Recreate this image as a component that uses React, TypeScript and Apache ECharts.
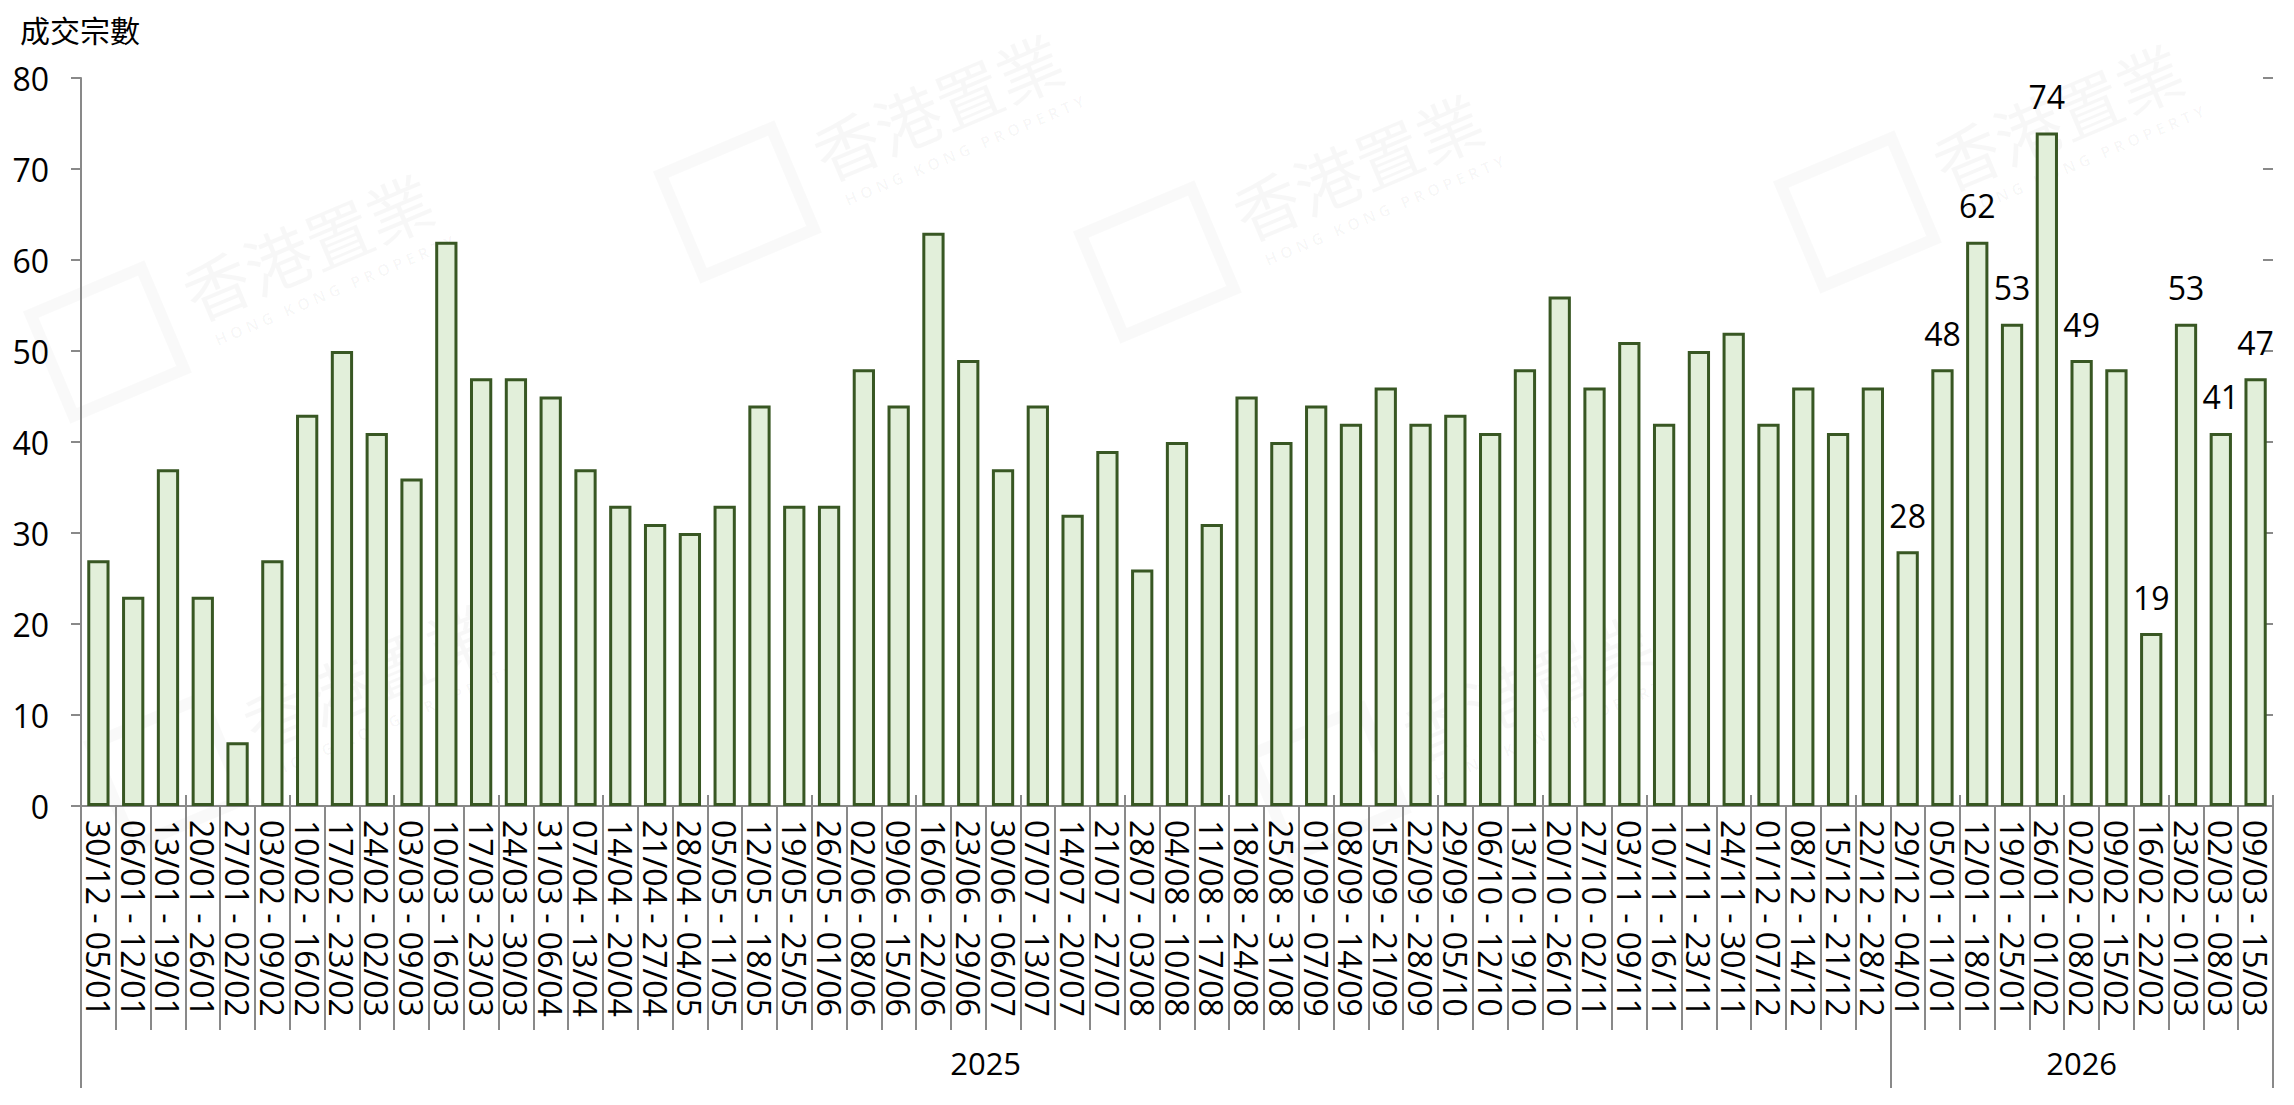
import React, { useEffect, useRef } from "react";
import * as echarts from "echarts";

const categories2025 = [
  "30/12 - 05/01", "06/01 - 12/01", "13/01 - 19/01", "20/01 - 26/01", "27/01 - 02/02",
  "03/02 - 09/02", "10/02 - 16/02", "17/02 - 23/02", "24/02 - 02/03", "03/03 - 09/03",
  "10/03 - 16/03", "17/03 - 23/03", "24/03 - 30/03", "31/03 - 06/04", "07/04 - 13/04",
  "14/04 - 20/04", "21/04 - 27/04", "28/04 - 04/05", "05/05 - 11/05", "12/05 - 18/05",
  "19/05 - 25/05", "26/05 - 01/06", "02/06 - 08/06", "09/06 - 15/06", "16/06 - 22/06",
  "23/06 - 29/06", "30/06 - 06/07", "07/07 - 13/07", "14/07 - 20/07", "21/07 - 27/07",
  "28/07 - 03/08", "04/08 - 10/08", "11/08 - 17/08", "18/08 - 24/08", "25/08 - 31/08",
  "01/09 - 07/09", "08/09 - 14/09", "15/09 - 21/09", "22/09 - 28/09", "29/09 - 05/10",
  "06/10 - 12/10", "13/10 - 19/10", "20/10 - 26/10", "27/10 - 02/11", "03/11 - 09/11",
  "10/11 - 16/11", "17/11 - 23/11", "24/11 - 30/11", "01/12 - 07/12", "08/12 - 14/12",
  "15/12 - 21/12", "22/12 - 28/12",
];
const categories2026 = [
  "29/12 - 04/01", "05/01 - 11/01", "12/01 - 18/01", "19/01 - 25/01", "26/01 - 01/02",
  "02/02 - 08/02", "09/02 - 15/02", "16/02 - 22/02", "23/02 - 01/03", "02/03 - 08/03",
  "09/03 - 15/03",
];
const values2025 = [
  27, 23, 37, 23, 7, 27, 43, 50, 41, 36, 62, 47, 47, 45, 37, 33, 31, 30, 33, 44,
  33, 33, 48, 44, 63, 49, 37, 44, 32, 39, 26, 40, 31, 45, 40, 44, 42, 46, 42, 43,
  41, 48, 56, 46, 51, 42, 50, 52, 42, 46, 41, 46,
];
const values2026 = [28, 48, 62, 53, 74, 49, 48, 19, 53, 41, 47];
const labelled2026 = [true, true, true, true, true, true, false, true, true, true, true];
const yearGroups = ["2025", "2026"];
const yTicks = [0, 10, 20, 30, 40, 50, 60, 70, 80];
const yTitle = "成交宗數";

const FONT = '"Open Sans", "Noto Sans", sans-serif';
const AXIS_COLOR = "#898989";

export default function App() {
  const ref = useRef<HTMLDivElement>(null);

  useEffect(() => {
    if (!ref.current) return;
    const chart = echarts.init(ref.current, undefined, { renderer: "svg" });

    const categories = [...categories2025, ...categories2026];
    const n2025 = categories2025.length;
    const total = categories.length;
    const barData = [
      ...values2025.map((v) => ({ value: v })),
      ...values2026.map((v, i) => ({ value: v, label: { show: labelled2026[i] } })),
    ];
    const yearCenters: Record<string, string> = {
      [String(n2025 / 2)]: yearGroups[0],
      [String(n2025 + (total - n2025) / 2)]: yearGroups[1],
    };

    const wmPositions = [
      [200, 330], [830, 190], [1250, 250], [260, 760], [1420, 770], [1950, 200],
    ];
    const watermarks = wmPositions.map(([x, y]) => ({
      type: "group",
      x,
      y,
      rotation: 0.4,
      silent: true,
      z: 100,
      children: [
        {
          type: "text",
          x: 0,
          y: -70,
          style: { text: "香港置業", font: '66px "Noto Sans CJK TC"', fill: "rgba(0,0,0,0.03)" },
        },
        {
          type: "text",
          x: 10,
          y: 8,
          style: {
            text: "H O N G   K O N G   P R O P E R T Y",
            font: 'bold 16px "Open Sans"',
            fill: "rgba(0,0,0,0.03)",
          },
        },
        {
          type: "rect",
          shape: { x: -150, y: -80, width: 120, height: 110 },
          style: { fill: "none", stroke: "rgba(0,0,0,0.022)", lineWidth: 12 },
        },
      ],
    }));

    const catBase = {
      type: "category",
      data: categories,
      boundaryGap: true,
      position: "bottom",
    };

    chart.setOption({
      animation: false,
      backgroundColor: "#ffffff",
      textStyle: { fontFamily: FONT },
      title: {
        text: yTitle,
        left: 15,
        top: 9,
        textStyle: {
          fontFamily: '"Noto Sans CJK TC", sans-serif',
          fontSize: 30,
          fontWeight: "normal",
          color: "#000",
        },
      },
      grid: { left: 81, right: 21, top: 78, bottom: 299, containLabel: false },
      xAxis: [
        {
          ...catBase,
          axisLine: { show: true, lineStyle: { color: AXIS_COLOR, width: 2 } },
          axisTick: { show: true, length: 224, lineStyle: { color: AXIS_COLOR, width: 2 } },
          axisLabel: {
            interval: 0,
            rotate: -90,
            margin: 14,
            fontSize: 32,
            color: "#000",
            fontFamily: FONT,
          },
          splitLine: { show: false },
        },
        {
          ...catBase,
          axisLine: { show: false },
          axisTick: { show: true, inside: true, length: 11, lineStyle: { color: AXIS_COLOR, width: 2 } },
          axisLabel: { show: false },
          splitLine: { show: false },
        },
        {
          ...catBase,
          axisLine: { show: false },
          axisTick: {
            show: true,
            length: 282,
            interval: (i: number) => i === 0 || i === n2025,
            lineStyle: { color: AXIS_COLOR, width: 2 },
          },
          axisLabel: { show: false },
          splitLine: { show: false },
        },
        {
          type: "value",
          position: "bottom",
          min: 0,
          max: total,
          interval: 0.5,
          axisLine: { show: false },
          axisTick: { show: false },
          splitLine: { show: false },
          axisLabel: {
            show: true,
            margin: 241,
            fontSize: 31,
            color: "#000",
            fontFamily: FONT,
            formatter: (v: number) => yearCenters[String(v)] || "",
          },
        },
      ],
      yAxis: [
        {
          type: "value",
          min: yTicks[0],
          max: yTicks[yTicks.length - 1],
          interval: 10,
          axisLine: { show: true, lineStyle: { color: AXIS_COLOR, width: 2 } },
          axisTick: { show: true, length: 10, lineStyle: { color: AXIS_COLOR, width: 2 } },
          axisLabel: { fontSize: 32, margin: 32, color: "#000", fontFamily: FONT },
          splitLine: { show: false },
        },
        {
          type: "value",
          min: yTicks[0],
          max: yTicks[yTicks.length - 1],
          interval: 10,
          axisLine: { show: false },
          axisTick: { show: true, inside: true, length: 10, lineStyle: { color: AXIS_COLOR, width: 2 } },
          axisLabel: { show: false },
          splitLine: { show: false },
        },
      ],
      series: [
        {
          type: "bar",
          xAxisIndex: 0,
          yAxisIndex: 0,
          data: barData,
          barWidth: "64%",
          itemStyle: { color: "#E2EFDA", borderColor: "#385723", borderWidth: 3 },
          label: {
            show: false,
            position: "top",
            distance: 20,
            fontSize: 32,
            color: "#000",
            fontFamily: FONT,
          },
        },
      ],
      graphic: watermarks,
    });

    return () => chart.dispose();
  }, []);

  return (
    <div
      ref={ref}
      style={{ position: "fixed", left: 0, top: 0, width: 2294, height: 1105 }}
    />
  );
}
